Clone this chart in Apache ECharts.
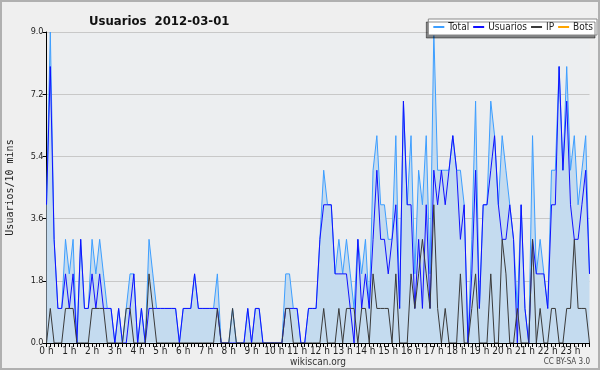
<!DOCTYPE html>
<html>
<head>
<meta charset="utf-8">
<script src="https://cdn.jsdelivr.net/npm/echarts@6/dist/echarts.min.js"></script>
<style>
  html, body { margin: 0; padding: 0; background: #efefef; }
  #main { width: 600px; height: 370px; }
</style>
</head>
<body>
<div id="main"></div>
<script>
// one value per 10 minutes, 0:00 .. 23:50
var hours = ['0', '1', '2', '3', '4', '5', '6', '7', '8', '9', '10', '11',
  '12', '13', '14', '15', '16', '17', '18', '19', '20', '21', '22', '23'];
var yTicks = [0, 1.8, 3.6, 5.4, 7.2, 9.0];

var total = [
  4, 9, 3, 1, 1, 3, 2, 3, 0, 3, 1, 1,
  3, 2, 3, 2, 1, 1, 0, 1, 0, 1, 2, 2,
  0, 1, 0, 3, 2, 1, 1, 1, 1, 1, 1, 0,
  1, 1, 1, 2, 1, 1, 1, 1, 1, 2, 0, 0,
  0, 1, 0, 0, 0, 1, 0, 1, 1, 0, 0, 0,
  0, 0, 0, 2, 2, 1, 1, 0, 0, 1, 1, 1,
  3, 5, 4, 4, 2, 3, 2, 3, 2, 1, 3, 2,
  3, 1, 5, 6, 4, 4, 3, 3, 6, 1, 7, 4,
  6, 2, 5, 4, 6, 2, 9, 5, 5, 5, 5, 6,
  5, 5, 4, 0, 3, 7, 1, 4, 4, 7, 6, 4,
  6, 5, 4, 3, 1, 4, 1, 0, 6, 2, 3, 2,
  1, 5, 5, 8, 5, 8, 5, 6, 4, 5, 6, 2
];
var usuarios = [
  4, 8, 3, 1, 1, 2, 1, 2, 0, 3, 1, 1,
  2, 1, 2, 1, 1, 1, 0, 1, 0, 0, 1, 2,
  0, 1, 0, 1, 1, 1, 1, 1, 1, 1, 1, 0,
  1, 1, 1, 2, 1, 1, 1, 1, 1, 1, 0, 0,
  0, 0, 0, 0, 0, 1, 0, 1, 1, 0, 0, 0,
  0, 0, 0, 1, 1, 1, 1, 0, 0, 1, 1, 1,
  3, 4, 4, 4, 2, 2, 2, 2, 1, 0, 3, 1,
  2, 1, 3, 5, 3, 3, 2, 3, 4, 1, 7, 4,
  4, 1, 3, 1, 4, 1, 5, 4, 5, 4, 5, 6,
  5, 3, 4, 0, 2, 5, 1, 4, 4, 5, 6, 4,
  3, 3, 4, 3, 0, 4, 1, 0, 3, 2, 2, 2,
  1, 4, 4, 8, 5, 7, 4, 3, 3, 4, 5, 2
];
var ip = [
  0, 1, 0, 0, 0, 1, 1, 1, 0, 0, 0, 0,
  1, 1, 1, 1, 0, 0, 0, 0, 0, 1, 1, 0,
  0, 0, 0, 2, 1, 0, 0, 0, 0, 0, 0, 0,
  0, 0, 0, 0, 0, 0, 0, 0, 0, 1, 0, 0,
  0, 1, 0, 0, 0, 0, 0, 0, 0, 0, 0, 0,
  0, 0, 0, 1, 1, 0, 0, 0, 0, 0, 0, 0,
  0, 1, 0, 0, 0, 1, 0, 1, 1, 1, 0, 1,
  1, 0, 2, 1, 1, 1, 1, 0, 2, 0, 0, 0,
  2, 1, 2, 3, 2, 1, 4, 1, 0, 1, 0, 0,
  0, 2, 0, 0, 1, 2, 0, 0, 0, 2, 0, 0,
  3, 2, 0, 0, 1, 0, 0, 0, 3, 0, 1, 0,
  0, 1, 1, 0, 0, 1, 1, 3, 1, 1, 1, 0
];
var bots = [
  0, 0, 0, 0, 0, 0, 0, 0, 0, 0, 0, 0,
  0, 0, 0, 0, 0, 0, 0, 0, 0, 0, 0, 0,
  0, 0, 0, 0, 0, 0, 0, 0, 0, 0, 0, 0,
  0, 0, 0, 0, 0, 0, 0, 0, 0, 0, 0, 0,
  0, 0, 0, 0, 0, 0, 0, 0, 0, 0, 0, 0,
  0, 0, 0, 0, 0, 0, 0, 0, 0, 0, 0, 0,
  0, 0, 0, 0, 0, 0, 0, 0, 0, 0, 0, 0,
  0, 0, 0, 0, 0, 0, 0, 0, 0, 0, 0, 0,
  0, 0, 0, 0, 0, 0, 0, 0, 0, 0, 0, 0,
  0, 0, 0, 0, 0, 0, 0, 0, 0, 0, 0, 0,
  0, 0, 0, 0, 0, 0, 0, 0, 0, 0, 0, 0,
  0, 0, 0, 0, 0, 0, 0, 0, 0, 0, 0, 0
];

// categories "h:m0", label only on the full hour
var slots = [];
hours.forEach(function(h) {
  for (var m = 0; m < 6; m++) {
    slots.push(h + ':' + m + '0');
  }
});

var font = 'DejaVu Sans Condensed';
var chart = echarts.init(document.getElementById('main'));

var lineSeries = function(name, data, color, z) {
  return {
    name: name,
    type: 'line',
    data: data,
    symbol: 'none',
    z: z,
    animation: false,
    lineStyle: { color: color, width: 1 },
    itemStyle: { color: color }
  };
};

var totalSeries = lineSeries('Total', total, '#3d9eff', 3);
totalSeries.areaStyle = { color: '#c4dbef', opacity: 1 };

var option = {
  backgroundColor: '#efefef',
  animation: false,
  title: {
    text: 'Usuarios  2012-03-01',
    left: 84,
    top: 10,
    textStyle: { fontFamily: font, fontSize: 13, fontWeight: 'bold', color: '#111' }
  },
  legend: {
    data: ['Total', 'Usuarios', 'IP', 'Bots'],
    right: 3,
    top: 19,
    padding: [3, 4, 3, 4],
    itemWidth: 11,
    itemHeight: 2,
    itemGap: 3,
    backgroundColor: '#ffffff',
    borderColor: '#888',
    borderWidth: 1,
    shadowColor: 'rgba(0,0,0,0.45)',
    shadowOffsetX: -2,
    shadowOffsetY: 3,
    shadowBlur: 0,
    textStyle: { fontFamily: font, fontSize: 10, color: '#222', padding: [0, 0, 0, -1] }
  },
  grid: {
    left: 46.5,
    right: 10.5,
    top: 32,
    bottom: 27,
    outerBoundsMode: 'none',
    containLabel: false,
    show: true,
    backgroundColor: '#eceef0',
    borderWidth: 0
  },
  xAxis: {
    type: 'category',
    data: slots,
    boundaryGap: false,
    z: 10,
    axisLine: { lineStyle: { color: '#000', width: 1 } },
    axisTick: { interval: 0, length: 4, lineStyle: { color: '#000' } },
    axisLabel: {
      interval: 5,
      margin: 3,
      fontFamily: font,
      fontSize: 10,
      color: '#222',
      formatter: function(v) { return v.split(':')[0] + ' h'; }
    },
    name: 'wikiscan.org',
    nameLocation: 'middle',
    nameGap: 14,
    nameMoveOverlap: false,
    nameTextStyle: { fontFamily: font, fontSize: 10, color: '#333' }
  },
  yAxis: {
    type: 'value',
    min: yTicks[0],
    max: yTicks[yTicks.length - 1],
    interval: 1.8,
    name: 'Usuarios/10 mins',
    nameLocation: 'middle',
    nameGap: 31,
    nameMoveOverlap: false,
    nameTextStyle: { fontFamily: 'DejaVu Sans Mono', fontSize: 10, color: '#222' },
    axisLine: { show: true, lineStyle: { color: '#000', width: 1 } },
    axisTick: { show: true, length: 4, lineStyle: { color: '#000' } },
    axisLabel: {
      margin: 3,
      fontFamily: font,
      fontSize: 9,
      color: '#222',
      formatter: function(v) { return v.toFixed(1); }
    },
    splitLine: { lineStyle: { color: '#c8c8c8', width: 1 } }
  },
  graphic: [
    {
      type: 'rect',
      shape: { x: 1, y: 1, width: 598, height: 368 },
      style: { fill: 'none', stroke: '#b0b0b0', lineWidth: 2 },
      silent: true
    },
    {
      type: 'text',
      right: 10,
      top: 358,
      style: { text: 'CC BY-SA 3.0', fontFamily: font, fontSize: 8, fill: '#444' }
    }
  ],
  series: [
    lineSeries('Bots', bots, '#ffa500', 1),
    totalSeries,
    lineSeries('Usuarios', usuarios, '#1010ff', 4),
    lineSeries('IP', ip, '#3a3a3a', 5)
  ]
};

chart.setOption(option);
</script>
</body>
</html>
